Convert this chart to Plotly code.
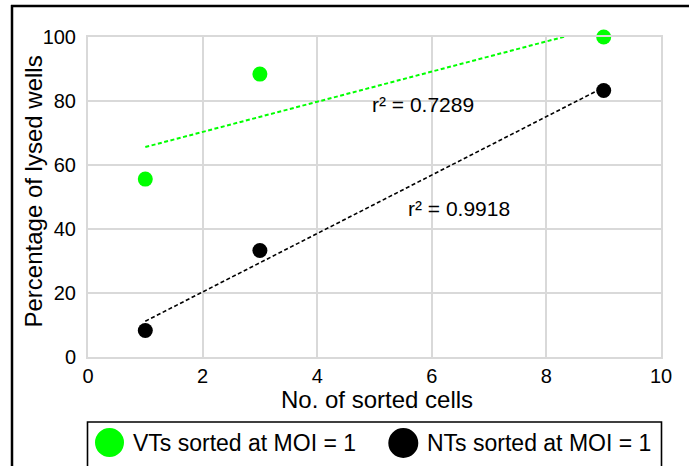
import numpy as np
import plotly.graph_objects as go

# ---- data ----
cells = [1, 3, 9]
vt_pct = [55.6, 88.4, 100.0]
nt_pct = [8.3, 33.3, 83.3]
series_names = ["VTs sorted at MOI = 1", "NTs sorted at MOI = 1"]
r2_labels = ["r² = 0.7289", "r² = 0.9918"]
r2_pos_x = [5.85, 6.47]
r2_pos_y = [79.0, 46.3]
x_ticks = [0, 2, 4, 6, 8, 10]
y_ticks = [0, 20, 40, 60, 80, 100]

GREEN = "#00ff00"
BLACK = "#000000"
GRID = "#d9d9d9"
FONT = "Arial, Liberation Sans, sans-serif"

W, H = 689, 466
ML, MR, MT, MB = 88, 28, 37, 109
PW, PH = W - ML - MR, H - MT - MB


def px(x):
    return (x - ML) / PW


def py(y):
    return (H - MB - y) / PH


fig = go.Figure()

colors = [GREEN, BLACK]
widths = [2, 1.6]
for ys, col, lw, name in zip([vt_pct, nt_pct], colors, widths, series_names):
    slope, icpt = np.polyfit(cells, ys, 1)
    xs = np.array([min(cells), max(cells)], dtype=float)
    fig.add_trace(go.Scatter(x=xs, y=slope * xs + icpt, mode="lines",
                             line=dict(color=col, width=lw, dash="4px,2.5px"),
                             showlegend=False, hoverinfo="skip"))
for ys, col, name in zip([vt_pct, nt_pct], colors, series_names):
    fig.add_trace(go.Scatter(x=cells, y=ys, mode="markers", name=name,
                             marker=dict(color=col, size=15, line=dict(width=0)),
                             cliponaxis=False, showlegend=False))

annotations = []
for t, ax_, ay_ in zip(r2_labels, r2_pos_x, r2_pos_y):
    annotations.append(dict(x=ax_, y=ay_, xref="x", yref="y", text=t, showarrow=False,
                            font=dict(family=FONT, size=21, color="#000"),
                            xanchor="center", yanchor="middle"))

# axis titles
annotations.append(dict(x=px(376.5), y=py(399.5), xref="paper", yref="paper",
                        text="No. of sorted cells", showarrow=False,
                        font=dict(family=FONT, size=24, color="#000"),
                        xanchor="center", yanchor="middle", borderpad=0))
annotations.append(dict(x=px(33), y=py(191.5), xref="paper", yref="paper",
                        text="Percentage of lysed wells", showarrow=False, textangle=-90,
                        font=dict(family=FONT, size=24, color="#000"),
                        xanchor="center", yanchor="middle"))

# legend (manual)
leg_circ = [(109.5, 442.5, 29), (403.3, 443, 30)]
leg_text_x = [132, 426]
shapes = []
for (cx, cy, d), col, tx, name in zip(leg_circ, colors, leg_text_x, series_names):
    shapes.append(dict(type="circle", xref="paper", yref="paper",
                       xsizemode="pixel", ysizemode="pixel",
                       xanchor=px(cx), yanchor=py(cy),
                       x0=-d / 2, x1=d / 2, y0=-d / 2, y1=d / 2,
                       fillcolor=col, line=dict(width=0)))
    annotations.append(dict(x=px(tx), y=py(443), xref="paper", yref="paper",
                            text=name, showarrow=False,
                            font=dict(family=FONT, size=23, color="#000"),
                            xanchor="left", yanchor="middle", borderpad=0))

# legend box
shapes.append(dict(type="rect", xref="paper", yref="paper",
                   x0=px(87.5), x1=px(661.5), y0=py(480), y1=py(422),
                   line=dict(color="#000", width=1.6), fillcolor="rgba(0,0,0,0)"))
# outer border (top and left visible)
shapes.append(dict(type="line", xref="paper", yref="paper",
                   x0=px(11), x1=px(700), y0=py(6), y1=py(6),
                   line=dict(color="#000", width=2.5)))
shapes.append(dict(type="line", xref="paper", yref="paper",
                   x0=px(12), x1=px(12), y0=py(5), y1=py(480),
                   line=dict(color="#000", width=2.5)))

fig.update_layout(
    width=W, height=H,
    margin=dict(l=ML, r=MR, t=MT, b=MB, pad=0),
    paper_bgcolor="white", plot_bgcolor="white",
    showlegend=False,
    annotations=annotations, shapes=shapes,
    font=dict(family=FONT, color="#000"),
)
fig.update_xaxes(range=[0, 10], tickvals=x_ticks, ticktext=[str(v) for v in x_ticks],
                 showgrid=True, gridcolor=GRID, gridwidth=2,
                 showline=True, linecolor=GRID, linewidth=2, mirror=True,
                 zeroline=False, ticks="", ticklabelstandoff=0,
                 tickfont=dict(family=FONT, size=20, color="#000"))
fig.update_yaxes(range=[0, 100], tickvals=y_ticks, ticktext=[str(v) for v in y_ticks],
                 showgrid=True, gridcolor=GRID, gridwidth=2,
                 showline=True, linecolor=GRID, linewidth=2, mirror=True,
                 zeroline=False, ticks="", ticklabelstandoff=6,
                 tickfont=dict(family=FONT, size=20, color="#000"))

fig.write_html("out.html")
